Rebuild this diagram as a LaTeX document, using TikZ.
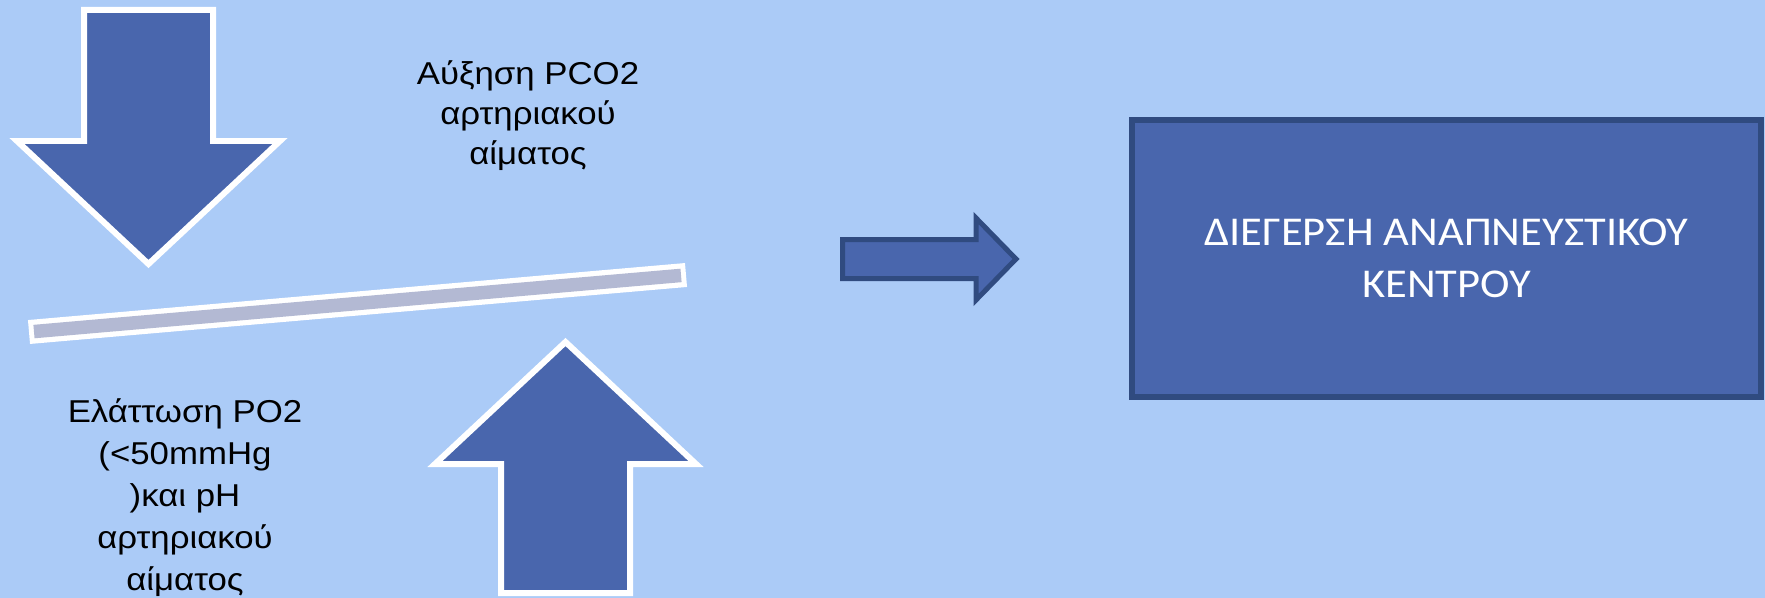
\documentclass[tikz,border=0pt]{standalone}
\usepackage{fontspec}
\setmainfont{Liberation Sans}
\newfontfamily\boxfont{Carlito}
\definecolor{bgblue}{RGB}{171,203,247}
\definecolor{arrowblue}{RGB}{73,102,173}
\definecolor{edgeblue}{RGB}{48,75,128}
\definecolor{bargrey}{RGB}{179,185,211}
\tikzset{
  fatarrow/.style={fill=arrowblue, draw=white, line width=0.12cm},
  smallarrow/.style={fill=arrowblue, draw=edgeblue, line width=0.1cm},
  label/.style={align=center, inner sep=0pt, anchor=north, text=black, xscale=1.1}
}
\begin{document}
\begin{tikzpicture}[x=0.02cm, y=-0.02cm]
            % φόντο
            \fill[bgblue] (0,0) rectangle (1765,598);
            \useasboundingbox (0,0) rectangle (1765,598);

            % βέλος προς τα κάτω
            \draw[fatarrow] (84,10) -- (213,10) -- (213,141) -- (280,141)
                -- (148.5,264) -- (17,141) -- (84,141) -- cycle;

            % ράβδος
            \coordinate (barL) at (29,332);
            \coordinate (barR) at (686,275);
            \draw[white, line width=0.48cm] (barL) -- (barR);
            \draw[bargrey, line width=0.27cm, shorten <=0.1cm, shorten >=0.1cm] (barL) -- (barR);

            % βέλος προς τα πάνω
            \draw[fatarrow] (501,593) -- (630,593) -- (630,464) -- (696,464)
                -- (565.5,342) -- (435,464) -- (501,464) -- cycle;

            % κείμενα
            \node[label, font=\fontsize{18}{22.9}\selectfont] (pco) at (528,60)
                {Αύξηση PCO2\\αρτηριακού\\αίματος};
            \node[label, font=\fontsize{18}{23.9}\selectfont] (po) at (185,398)
                {Ελάττωση PO2\\(<50mmHg\\)και pH\\αρτηριακού\\αίματος};

            % βέλος προς τα δεξιά
            \draw[smallarrow] (842.5,239.5) -- (976,239.5) -- (976,218) -- (1016,259)
                -- (976,300) -- (976,278.5) -- (842.5,278.5) -- cycle;

            % κέντρο
            \node[fill=arrowblue, draw=edgeblue, line width=0.13cm, inner sep=0pt,
                  minimum width=12.58cm, minimum height=5.54cm]
                (kentro) at (1446.5,258.5) {};
            \node[text=white, align=center, xscale=1.087,
                  font=\boxfont\fontsize{23.3}{29.2}\selectfont]
                (kentrotxt) at (kentro) {ΔΙΕΓΕΡΣΗ ΑΝΑΠΝΕΥΣΤΙΚΟΥ\\ΚΕΝΤΡΟΥ};
        \end{tikzpicture}
\end{document}
